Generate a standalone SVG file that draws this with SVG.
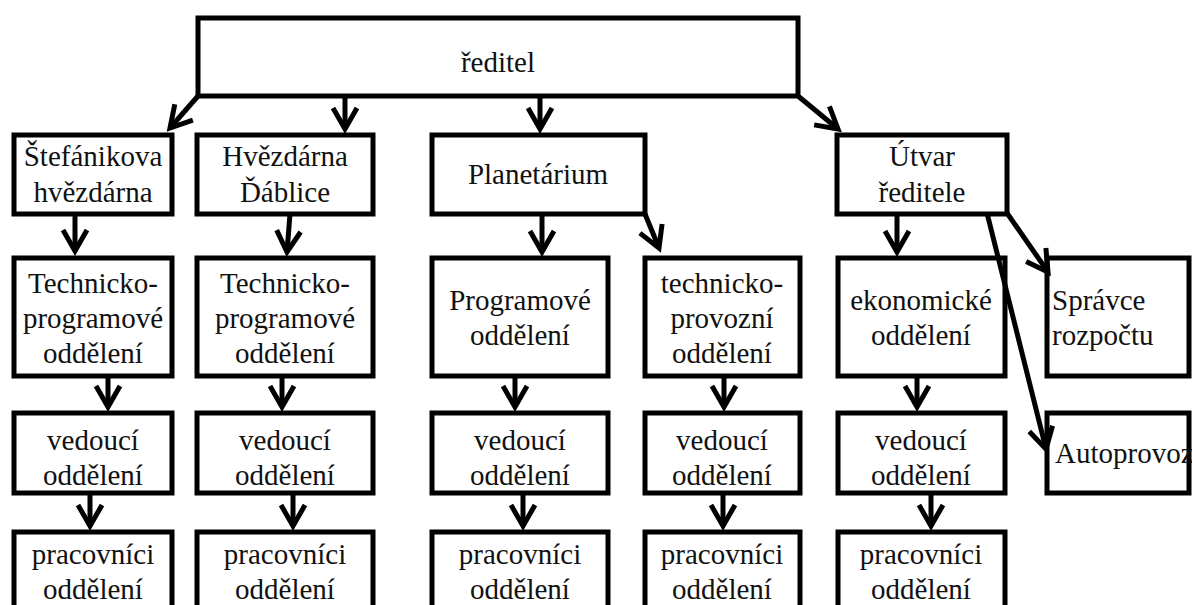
<svg xmlns="http://www.w3.org/2000/svg" width="1192" height="605" viewBox="0 0 1192 605">
<style>
.box{fill:#fff;stroke:#000;stroke-width:5}
.t{font-family:"Liberation Serif","Times New Roman",serif;font-size:29px;fill:#111;text-anchor:middle}
.tl{font-family:"Liberation Serif","Times New Roman",serif;font-size:29px;fill:#111;text-anchor:start}
.c{fill:none;stroke:#000;stroke-width:5;marker-end:url(#ah)}
</style>
<defs>
<marker id="ah" markerUnits="userSpaceOnUse" viewBox="-28 -18 34 36" refX="0" refY="0" markerWidth="34" markerHeight="36" orient="auto">
<path d="M-21,-12 L0,0 L-21,12" fill="none" stroke="#000" stroke-width="5" stroke-linejoin="miter"/>
</marker>
</defs>
<rect width="1192" height="605" fill="#fff"/>

<g id="reditel"><rect class="box" x="198" y="18" width="600" height="78"/><text class="t" x="498" y="72">ředitel</text></g>

<g id="stefanikova"><rect class="box" x="14" y="135" width="158" height="79"/><text class="t" x="93" y="166">Štefánikova</text><text class="t" x="93" y="202">hvězdárna</text></g>
<g id="hvezdarna"><rect class="box" x="197" y="135" width="176" height="79"/><text class="t" x="285" y="166">Hvězdárna</text><text class="t" x="285" y="202">Ďáblice</text></g>
<g id="planetarium"><rect class="box" x="432" y="135" width="213" height="79"/><text class="t" x="538" y="184">Planetárium</text></g>
<g id="utvar"><rect class="box" x="837" y="135" width="170" height="79"/><text class="t" x="922" y="166">Útvar</text><text class="t" x="922" y="202">ředitele</text></g>

<g id="tp1"><rect class="box" x="14" y="258" width="158" height="118"/><text class="t" x="93" y="293">Technicko-</text><text class="t" x="93" y="328">programové</text><text class="t" x="93" y="363">oddělení</text></g>
<g id="tp2"><rect class="box" x="197" y="258" width="176" height="118"/><text class="t" x="285" y="293">Technicko-</text><text class="t" x="285" y="328">programové</text><text class="t" x="285" y="363">oddělení</text></g>
<g id="programove"><rect class="box" x="432" y="258" width="176" height="118"/><text class="t" x="520" y="310">Programové</text><text class="t" x="520" y="345">oddělení</text></g>
<g id="tprov"><rect class="box" x="645" y="258" width="155" height="118"/><text class="t" x="722" y="293">technicko-</text><text class="t" x="722" y="328">provozní</text><text class="t" x="722" y="363">oddělení</text></g>
<g id="ekonomicke"><rect class="box" x="838" y="258" width="167" height="118"/><text class="t" x="921" y="310">ekonomické</text><text class="t" x="921" y="345">oddělení</text></g>
<g id="spravce"><rect class="box" x="1047" y="258" width="142" height="118"/><text class="tl" x="1052" y="310">Správce</text><text class="tl" x="1052" y="345">rozpočtu</text></g>

<g id="ved1"><rect class="box" x="14" y="413" width="158" height="80"/><text class="t" x="93" y="450">vedoucí</text><text class="t" x="93" y="485">oddělení</text></g>
<g id="ved2"><rect class="box" x="197" y="413" width="176" height="80"/><text class="t" x="285" y="450">vedoucí</text><text class="t" x="285" y="485">oddělení</text></g>
<g id="ved3"><rect class="box" x="432" y="413" width="176" height="80"/><text class="t" x="520" y="450">vedoucí</text><text class="t" x="520" y="485">oddělení</text></g>
<g id="ved4"><rect class="box" x="645" y="413" width="155" height="80"/><text class="t" x="722" y="450">vedoucí</text><text class="t" x="722" y="485">oddělení</text></g>
<g id="ved5"><rect class="box" x="838" y="413" width="167" height="80"/><text class="t" x="921" y="450">vedoucí</text><text class="t" x="921" y="485">oddělení</text></g>
<g id="autoprovoz"><rect class="box" x="1047" y="413" width="142" height="80"/><text class="tl" x="1055" y="463">Autoprovoz</text></g>

<g id="prac1"><rect class="box" x="14" y="532" width="158" height="82"/><text class="t" x="93" y="564">pracovníci</text><text class="t" x="93" y="599">oddělení</text></g>
<g id="prac2"><rect class="box" x="197" y="532" width="176" height="82"/><text class="t" x="285" y="564">pracovníci</text><text class="t" x="285" y="599">oddělení</text></g>
<g id="prac3"><rect class="box" x="432" y="532" width="176" height="82"/><text class="t" x="520" y="564">pracovníci</text><text class="t" x="520" y="599">oddělení</text></g>
<g id="prac4"><rect class="box" x="645" y="532" width="155" height="82"/><text class="t" x="722" y="564">pracovníci</text><text class="t" x="722" y="599">oddělení</text></g>
<g id="prac5"><rect class="box" x="838" y="532" width="167" height="82"/><text class="t" x="921" y="564">pracovníci</text><text class="t" x="921" y="599">oddělení</text></g>

<g id="connectors">
<path class="c" d="M198,96 L170,128"/>
<path class="c" d="M345,96 L345,129"/>
<path class="c" d="M540,96 L540,129"/>
<path class="c" d="M798,96 L838,129"/>
<path class="c" d="M75,214 L75,251"/>
<path class="c" d="M290,214 L287,252"/>
<path class="c" d="M542,214 L542,252"/>
<path class="c" d="M645,214 L659,248"/>
<path class="c" d="M897,214 L897,252"/>
<path class="c" d="M1007,213 L1048,272"/>
<path class="c" d="M987,213 L1046,449"/>
<path class="c" d="M108,376 L108,407"/>
<path class="c" d="M282,376 L282,407"/>
<path class="c" d="M515,376 L515,407"/>
<path class="c" d="M724,376 L724,407"/>
<path class="c" d="M917,376 L917,407"/>
<path class="c" d="M90,493 L90,526"/>
<path class="c" d="M293,493 L293,526"/>
<path class="c" d="M523,493 L523,526"/>
<path class="c" d="M723,493 L723,526"/>
<path class="c" d="M931,493 L931,526"/>
</g>
</svg>
